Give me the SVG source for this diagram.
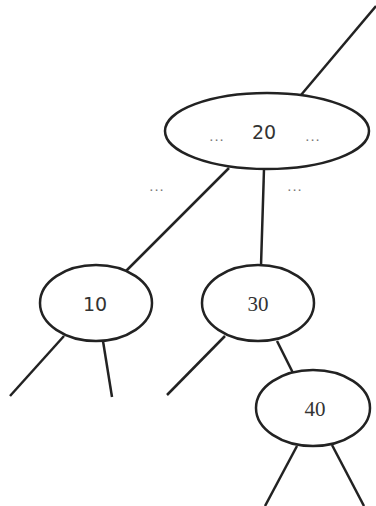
<svg xmlns="http://www.w3.org/2000/svg" width="376" height="506" viewBox="0 0 376 506">
<style>
.n{fill:#fff;stroke:#222;stroke-width:2.5}
.e{stroke:#222;stroke-width:2.5;fill:none}
.s{font-family:"DejaVu Sans",sans-serif;font-size:19px;fill:#333;text-anchor:middle}
.t{font-family:"Liberation Serif",serif;font-size:21px;fill:#333;text-anchor:middle}
.d{font-family:"Liberation Sans",sans-serif;font-size:15px;letter-spacing:1px;fill:#777;text-anchor:middle}
</style>
<rect width="376" height="506" fill="#fff"/>
<g id="connectors">
<line class="e" x1="301" y1="95" x2="376" y2="6"/>
<line class="e" x1="229" y1="168" x2="126" y2="271"/>
<line class="e" x1="264" y1="169" x2="261" y2="266"/>
<line class="e" x1="64" y1="336" x2="10" y2="396"/>
<line class="e" x1="103" y1="341" x2="112" y2="397"/>
<line class="e" x1="225" y1="336" x2="167" y2="395"/>
<line class="e" x1="277" y1="341" x2="293" y2="373"/>
<line class="e" x1="297" y1="446" x2="265" y2="506"/>
<line class="e" x1="332" y1="445" x2="364" y2="506"/>
</g>
<g id="node20">
<ellipse class="n" cx="267" cy="131" rx="102" ry="38"/>
<text class="s" x="264" y="139">20</text>
<text class="d" x="217" y="141">...</text>
<text class="d" x="313" y="141">...</text>
</g>
<g id="labels">
<text class="d" x="157" y="191">...</text>
<text class="d" x="295" y="191">...</text>
</g>
<g id="node10">
<ellipse class="n" cx="96" cy="303" rx="56" ry="38"/>
<text class="s" x="95" y="311">10</text>
</g>
<g id="node30">
<ellipse class="n" cx="258" cy="303" rx="56" ry="38"/>
<text class="t" x="258" y="311">30</text>
</g>
<g id="node40">
<ellipse class="n" cx="313" cy="408" rx="57" ry="38"/>
<text class="t" x="315" y="416">40</text>
</g>
</svg>
